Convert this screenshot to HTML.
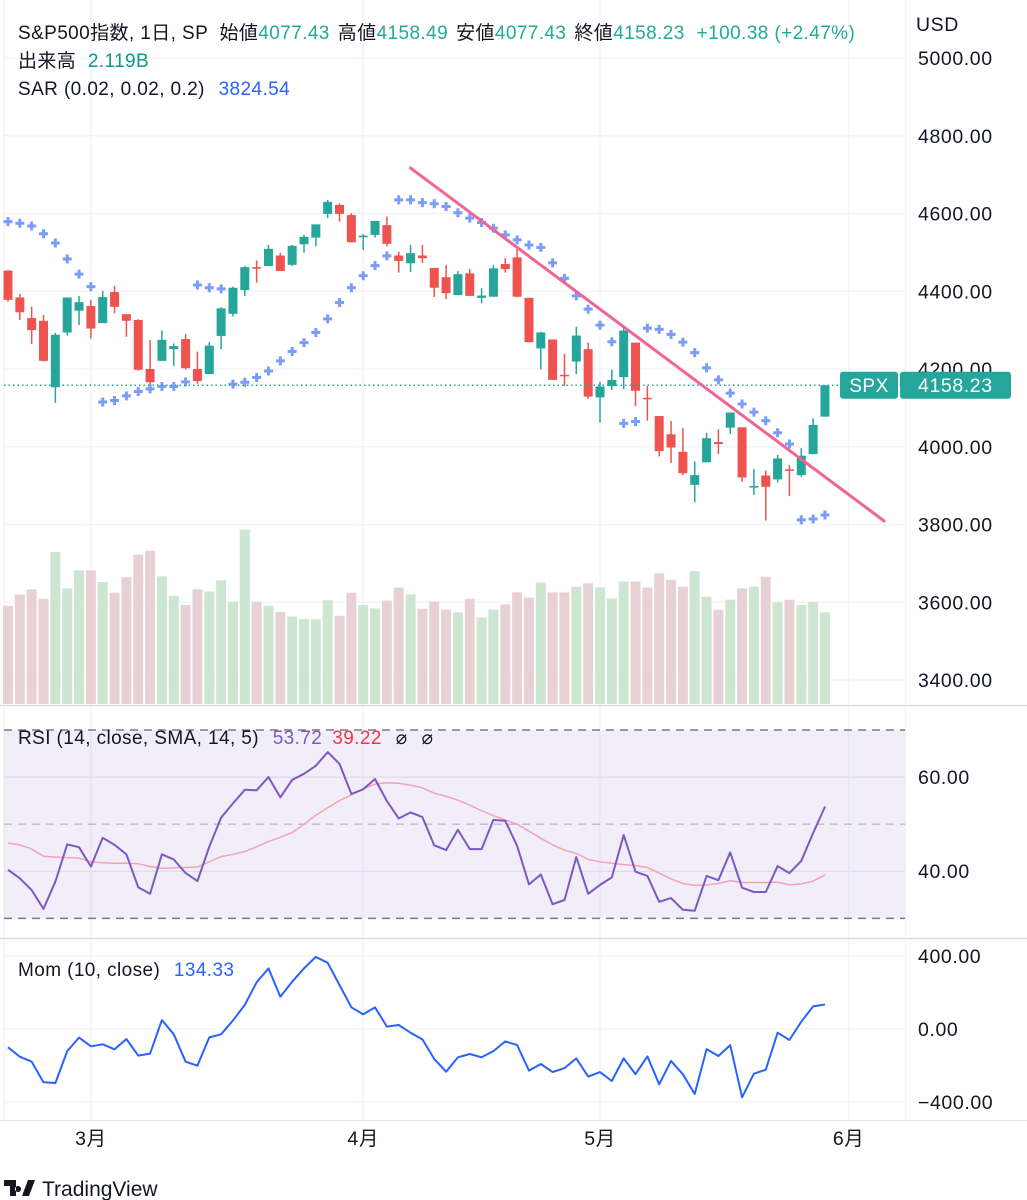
<!DOCTYPE html>
<html><head><meta charset="utf-8">
<style>
html,body{margin:0;padding:0;background:#fff;}
body{width:1027px;height:1200px;overflow:hidden;font-family:"Liberation Sans","Noto Sans CJK JP",sans-serif;}
svg{display:block;}
text{font-family:"Liberation Sans","Noto Sans CJK JP",sans-serif;}
</style></head>
<body>
<svg id="chart" width="1027" height="1200" viewBox="0 0 1027 1200" xmlns="http://www.w3.org/2000/svg">
<g id="grid"></g>
<rect x="4" y="730" width="901" height="188" fill="#7e57c2" fill-opacity="0.1"/>
<g id="rsiGuides"></g>
<g id="vol"></g>
<g id="candles"></g>
<g id="sar"></g>
<g id="overlay"></g>
<g id="ind"></g>
<g id="axes"></g>
<g font-size="19" letter-spacing="0.4">
<text x="18" y="39" fill="#131722">S&amp;P500指数, 1日, SP <tspan dx="6">始値</tspan><tspan fill="#22ab94">4077.43</tspan><tspan dx="8">高値</tspan><tspan fill="#22ab94">4158.49</tspan><tspan dx="8">安値</tspan><tspan fill="#22ab94">4077.43</tspan><tspan dx="8">終値</tspan><tspan fill="#22ab94">4158.23</tspan><tspan dx="12" fill="#22ab94">+100.38 (+2.47%)</tspan></text>
<text x="18" y="67" fill="#131722">出来高 <tspan dx="6" fill="#089981">2.119B</tspan></text>
<text x="18" y="95" fill="#131722">SAR (0.02, 0.02, 0.2) <tspan dx="8" fill="#2962ff">3824.54</tspan></text>
</g>
<g font-size="19" letter-spacing="0.4">
<text x="18" y="744" fill="#131722">RSI (14, close, SMA, 14, 5) <tspan dx="8" fill="#7e57c2">53.72</tspan><tspan dx="10" fill="#f23645">39.22</tspan><tspan dx="14">⌀</tspan><tspan dx="14">⌀</tspan></text>
</g>
<g font-size="19" letter-spacing="0.4">
<text x="18" y="976" fill="#131722">Mom (10, close) <tspan dx="8" fill="#2962ff">134.33</tspan></text>
</g>
<g>
<path d="M4 1180h12v16h-6v-10H4z M18 1186a3 3 0 1 0 0.01 0 M22 1196l6-16h7l-6 16z" fill="#131722"/>
<text x="42" y="1196" font-size="21" fill="#131722">TradingView</text>
</g>
</svg>
<script>
// ---- data ----
const opens  = [4453,4384,4331,4324,4153,4294,4350,4362,4318,4398,4341,4326,4200,4221,4251,4277,4200,4187,4285,4342,4403,4462,4465,4492,4468,4521,4538,4599,4622,4596,4539,4545,4570,4492,4472,4492,4460,4436,4390,4446,4383,4386,4470,4487,4383,4253,4276,4185,4219,4251,4127,4156,4179,4268,4126,4079,4032,3987,3902,3960,4012,4049,4050,3895,3926,3916,3942,3927,3981,4077.43];
const highs  = [4455,4393,4360,4339,4293,4384,4388,4378,4401,4414,4341,4328,4275,4299,4266,4290,4245,4269,4359,4412,4465,4479,4519,4499,4519,4545,4572,4635,4626,4601,4547,4581,4592,4502,4519,4519,4460,4468,4452,4457,4408,4468,4485,4511,4383,4296,4276,4239,4309,4268,4167,4198,4306,4268,4156,4079,4066,4048,3962,4036,4045,4088,4050,3943,3939,3979,3953,3996,4073,4158.49];
const lows   = [4373,4326,4264,4219,4113,4286,4313,4278,4318,4343,4283,4196,4155,4221,4208,4199,4162,4187,4251,4335,4388,4422,4465,4452,4465,4499,4516,4588,4579,4526,4506,4538,4515,4448,4450,4473,4385,4380,4390,4388,4369,4386,4448,4385,4269,4199,4172,4156,4187,4123,4062,4146,4148,4105,4067,3975,3958,3927,3857,3960,3981,4033,3910,3876,3810,3908,3873,3923,3981,4077.43];
const closes = [4378,4346,4300,4221,4288,4384,4372,4304,4385,4360,4324,4198,4166,4275,4259,4202,4169,4260,4356,4409,4462,4458,4509,4452,4517,4540,4572,4630,4599,4526,4543,4581,4522,4478,4498,4485,4409,4395,4444,4388,4389,4459,4457,4386,4269,4294,4172,4182,4286,4129,4155,4172,4299,4144,4122,3989,3998,3932,3927,4022,4007,4088,3921,3899,3897,3970,3938,3977,4056,4158.23];
const volumes = [2.27,2.53,2.65,2.43,3.51,2.67,3.09,3.09,2.82,2.57,2.93,3.45,3.54,2.95,2.50,2.29,2.65,2.60,2.86,2.36,4.03,2.36,2.27,2.13,2.02,1.96,1.96,2.40,2.04,2.57,2.29,2.21,2.39,2.69,2.53,2.20,2.37,2.18,2.12,2.43,2.00,2.18,2.30,2.58,2.46,2.81,2.58,2.58,2.71,2.79,2.69,2.44,2.83,2.83,2.69,3.02,2.87,2.71,3.07,2.48,2.18,2.41,2.67,2.71,2.94,2.35,2.41,2.29,2.36,2.119];
const sarValues = [4579,4575,4568,4548,4524,4483,4444,4412,4115,4119,4131,4142,4149,4155,4155,4167,4416,4409,4406,4161,4166,4178,4195,4221,4245,4268,4294,4329,4371,4409,4440,4466,4491,4635,4635,4628,4625,4618,4602,4588,4577,4562,4545,4532,4519,4513,4473,4433,4388,4354,4313,4270,4060,4065,4305,4302,4289,4269,4242,4203,4172,4138,4110,4089,4067,4036,4007,3812,3814,3824.54];
const rsiValues = [40.3,38.5,36.0,32.0,37.8,45.7,45.1,41.0,47.1,45.6,43.6,36.6,35.2,43.6,42.5,39.6,37.9,45.2,51.4,54.4,57.3,57.2,60.0,55.7,59.4,60.7,62.4,65.3,62.8,56.4,57.4,59.6,54.9,51.2,52.5,51.5,45.5,44.5,48.8,44.7,44.7,50.9,50.7,45.4,37.2,39.3,33.0,33.9,43.0,35.2,37.1,38.7,47.7,39.9,39.0,33.5,34.3,31.8,31.6,39.0,38.1,44.0,36.5,35.6,35.6,41.1,39.6,42.2,48.1,53.72];
const rsiSma = [46.0,45.6,44.7,43.2,43.0,42.9,42.8,42.0,41.8,41.7,41.7,41.6,41.0,40.6,40.7,40.8,40.9,42.0,43.1,43.6,44.2,45.2,46.3,47.2,48.2,50.0,51.9,53.5,55.0,56.2,57.5,58.5,58.8,58.7,58.3,57.7,56.6,55.9,55.1,54.0,52.9,51.8,50.9,50.0,48.5,47.0,45.6,44.5,43.8,42.5,42.0,41.7,41.4,41.2,40.8,39.6,38.4,37.4,37.0,37.1,37.4,38.0,37.6,37.6,37.6,37.7,37.1,37.3,37.9,39.22];
const momValues = [-100,-152,-179,-292,-296,-121,-47,-95,-84,-111,-55,-146,-135,49,-29,-179,-201,-46,-29,47,132,256,332,177,259,332,395,363,241,119,80,119,13,22,-20,-57,-164,-234,-155,-137,-155,-121,-68,-88,-228,-192,-236,-214,-161,-261,-236,-285,-161,-247,-150,-303,-175,-248,-356,-110,-148,-88,-374,-245,-223,-20,-60,40,124,134.33];
const priceTicks = [5000,4800,4600,4400,4200,4000,3800,3600,3400];
const priceTickLabels = ["5000.00","4800.00","4600.00","4400.00","4200.00","4000.00","3800.00","3600.00","3400.00"];
const rsiTicks = [60,40];
const rsiTickLabels = ["60.00","40.00"];
const momTicks = [400,0,-400];
const momTickLabels = ["400.00","0.00","−400.00"];
const monthIdx = [7,30,50,71];
const monthLabels = ["3月","4月","5月","6月"];
const trendStart = [34.0, 4717];
const trendEnd = [74.0, 3809];
const lastClose = 4158.23;

// ---- scales ----
const NS="http://www.w3.org/2000/svg";
const xOf = i => 8 + i*11.84;
const yP = p => 58 + (5000-p)*0.38875;
const yV = v => 704 - v*43.27;
const yR = v => 730 + (70-v)*4.708;
const yM = v => 1029 - v*0.1825;
const GREEN="#26a69a", RED="#ef5350";
function mk(tag, attrs, parent){const e=document.createElementNS(NS,tag);for(const k in attrs)e.setAttribute(k,attrs[k]);parent.appendChild(e);return e;}
const grid=document.getElementById('grid');
priceTicks.forEach(p=>{const l=mk('line',{x1:4,x2:905,y1:yP(p),y2:yP(p),stroke:'#f0f3fa','stroke-width':1.2},grid);

});
rsiTicks.forEach(v=>{const l=mk('line',{x1:4,x2:905,y1:yR(v),y2:yR(v),stroke:'#e6e3ee'},grid);

});
momTicks.forEach(v=>{const l=mk('line',{x1:4,x2:905,y1:yM(v),y2:yM(v),stroke:'#f0f3fa','stroke-width':1.2},grid);

});
monthIdx.forEach(i=>{const l=mk('line',{x1:xOf(i),x2:xOf(i),y1:0,y2:1120,stroke:'#f0f3fa','stroke-width':1.2},grid);

});
mk('line',{x1:4,x2:4,y1:0,y2:1120,stroke:'#eceef3'},grid);
[705.5,938.5].forEach(y=>{const l=mk('line',{x1:0,x2:1027,y1:y,y2:y,stroke:'#d9dbe0','stroke-width':1.5},grid);

});
const ax=document.getElementById('axes');
mk('line',{x1:0,x2:1027,y1:1120.5,y2:1120.5,stroke:'#e0e3eb'},ax);
mk('line',{x1:905.5,x2:905.5,y1:0,y2:1120,stroke:'#eef0f4'},ax);
const rg=document.getElementById('rsiGuides');
[70,50,30].forEach(v=>{const l=mk('line',{x1:4,x2:905,y1:yR(v),y2:yR(v),stroke:v===50?'#a8a3b5':'#787b86','stroke-width':v===50?1:1.5,'stroke-dasharray':'8 6'},rg);

});
const vg=document.getElementById('vol');
volumes.forEach((v,i)=>{const up=closes[i]>=opens[i];
const r=mk('rect',{x:xOf(i)-5,y:yV(v),width:10,height:704-yV(v),fill:up?'#cce6d1':'#e8d1d4'},vg);

});
const cg=document.getElementById('candles');
opens.forEach((o,i)=>{const c=closes[i],up=c>=o,col=up?GREEN:RED,x=xOf(i);
const g=mk('g',{},cg);


mk('line',{x1:x,x2:x,y1:yP(highs[i]),y2:yP(lows[i]),stroke:col,'stroke-width':1.5},g);
const t=Math.min(yP(o),yP(c)),h=Math.max(1.5,Math.abs(yP(o)-yP(c)));
mk('rect',{x:x-4.5,y:t,width:9,height:h,fill:col},g);});
const sg=document.getElementById('sar');
sarValues.forEach((s,i)=>{const x=xOf(i),y=yP(s);
const p=mk('path',{d:`M${x-4.5} ${y}H${x+4.5}M${x} ${y-4.5}V${y+4.5}`,stroke:'#7b9cf7','stroke-width':3},sg);

});
const ov=document.getElementById('overlay');
const dl=mk('line',{x1:4,x2:905,y1:yP(lastClose),y2:yP(lastClose),stroke:'#26a69a','stroke-width':1.5,'stroke-dasharray':'1.5 3'},ov);


const tl=mk('line',{x1:xOf(trendStart[0]),y1:yP(trendStart[1]),x2:xOf(trendEnd[0]),y2:yP(trendEnd[1]),stroke:'#f06593','stroke-width':3,'stroke-linecap':'round'},ov);


const ig=document.getElementById('ind');
function poly(arr,yf,col,w,name){const pts=arr.map((v,i)=>xOf(i).toFixed(1)+','+yf(v).toFixed(1)).join(' ');
const p=mk('polyline',{points:pts,fill:'none',stroke:col,'stroke-width':w,'stroke-linejoin':'round'},ig);

}
poly(rsiSma,yR,'#f4a3b0',1.5,'rsi-sma-line');
poly(rsiValues,yR,'#7e57c2',2,'rsi-line');
poly(momValues,yM,'#2962ff',2,'momentum-line');
function lbl(x,y,t,name,anchor){const e=mk('text',{x:x,y:y,'font-size':19.5,'letter-spacing':0.6,fill:'#131722','text-anchor':anchor||'start'},ax);e.textContent=t;

}
lbl(916,31,'USD','currency-label');
priceTicks.forEach((p,k)=>lbl(918,yP(p)+7,priceTickLabels[k],'price-tick-label'));
rsiTicks.forEach((v,k)=>lbl(918,yR(v)+7,rsiTickLabels[k],'rsi-tick-label'));
momTicks.forEach((v,k)=>lbl(918,yM(v)+7,momTickLabels[k],'mom-tick-label'));
monthIdx.forEach((i,k)=>lbl(xOf(i),1145,monthLabels[k],'month-label','middle'));
const tg=mk('g',{},ax);


const ty=yP(lastClose);
mk('rect',{x:840,y:ty-13.5,width:58,height:27,rx:3,fill:'#26a69a'},tg);
mk('rect',{x:900,y:ty-13.5,width:111,height:27,rx:3,fill:'#26a69a'},tg);
const t1=mk('text',{x:869,y:ty+7,'font-size':19,'letter-spacing':0.5,fill:'#fff','text-anchor':'middle'},tg);t1.textContent='SPX';
const t2=mk('text',{x:918,y:ty+7,'font-size':19.5,'letter-spacing':0.6,fill:'#fff'},tg);t2.textContent='4158.23';
</script>
</body></html>
